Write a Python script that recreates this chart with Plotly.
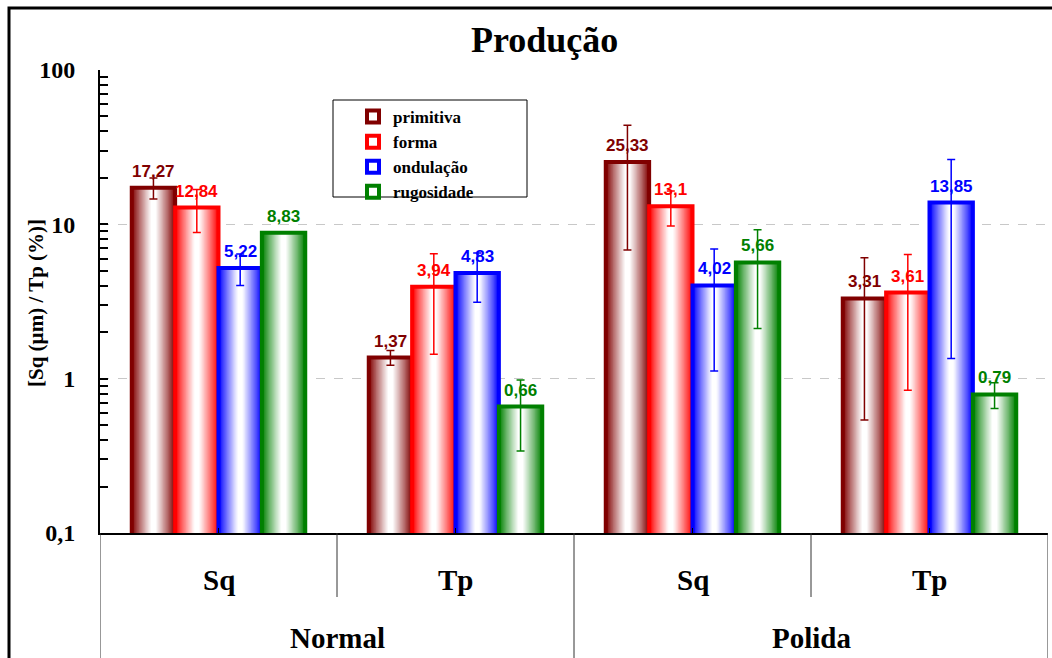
import math
import plotly.graph_objects as go

# ---------------- data ----------------
groups_outer = ["Normal", "Normal", "Polida", "Polida"]
groups_inner = ["Sq", "Tp", "Sq", "Tp"]
outer_labels = ["Normal", "Polida"]
series_names = ["primitiva", "forma", "ondulação", "rugosidade"]
series_colors = ["#800000", "#FF0000", "#0000FF", "#008000"]

primitiva = [17.27, 1.37, 25.33, 3.31]
forma = [12.84, 3.94, 13.1, 3.61]
ondulacao = [5.22, 4.83, 4.02, 13.85]
rugosidade = [8.83, 0.66, 5.66, 0.79]

primitiva_err = [2.7, 0.15, 18.5, 2.77]
forma_err = [4.0, 2.5, 3.35, 2.77]
ondulacao_err = [1.2, 1.7, 2.9, 12.5]
rugosidade_err = [0.05, 0.32, 3.55, 0.15]

y_tickvals = [0.1, 1, 10, 100]
y_ticktext = ["0,1", "1", "10", "100"]

values = [primitiva, forma, ondulacao, rugosidade]
errors = [primitiva_err, forma_err, ondulacao_err, rugosidade_err]

# ---------------- helpers ----------------
def hex_to_rgb(h):
    h = h.lstrip("#")
    return tuple(int(h[i:i + 2], 16) for i in (0, 2, 4))

def mix(c, t):
    r, g, b = hex_to_rgb(c)
    return "rgb(%d,%d,%d)" % (round(r + (255 - r) * t), round(g + (255 - g) * t), round(b + (255 - b) * t))

def fmt(v):
    return ("%g" % v).replace(".", ",")

x = list(range(len(groups_inner)))
W = 0.183
N = 18
SERIF = "Liberation Serif"
SANS = "Liberation Sans"

# plot area in px: x 100..1048, y 70..533
L, R, T, B = 100, 1048, 70, 533
PW, PH = R - L, B - T

def px_x(p):
    return (p - L) / PW

def px_y(p):
    return (B - p) / PH

fig = go.Figure()
annotations = []

for i, (name, col, vals, errs) in enumerate(zip(series_names, series_colors, values, errors)):
    center = (i - 1.5) * W
    # gradient layers (edge colour -> white centre)
    for k in range(N):
        t = k / N
        frac = 1 - t
        shade = min(1.0, 1.15 * t) ** 0.9
        width = W * frac
        fig.add_trace(go.Bar(
            x=x, y=vals, width=[width] * len(x), offset=[center - width / 2] * len(x),
            marker=dict(color=mix(col, shade), line=dict(width=0)),
            showlegend=False, hoverinfo="skip",
        ))
    # outline + error bars
    fig.add_trace(go.Bar(
        x=x, y=vals, width=[W] * len(x), offset=[center - W / 2] * len(x),
        name=name,
        marker=dict(color="rgba(255,255,255,0)", line=dict(color=col, width=4)),
        error_y=dict(type="data", array=errs, visible=True, color=col, thickness=1.5, width=4),
        cliponaxis=False,
        showlegend=True,
    ))
    # value labels (log axis -> annotation y in log10 units)
    for xi, v in zip(x, vals):
        annotations.append(dict(x=xi + center, y=math.log10(v), xref="x", yref="y",
                                text=fmt(v), showarrow=False, xanchor="center", yanchor="bottom",
                                yshift=5, font=dict(family=SANS, size=17, color=col, weight="bold")))

shapes = []
# category dividers
for xv in [-0.5, 1.5, 3.5]:
    shapes.append(dict(type="line", xref="x", yref="paper", x0=xv, x1=xv, y0=0, y1=px_y(662),
                       line=dict(color="#333333", width=1)))
for xv in [0.5, 2.5]:
    shapes.append(dict(type="line", xref="x", yref="paper", x0=xv, x1=xv, y0=0, y1=px_y(597),
                       line=dict(color="#333333", width=1)))
# legend box
shapes.append(dict(type="rect", xref="paper", yref="paper", x0=px_x(333), x1=px_x(527),
                   y0=px_y(197), y1=px_y(100), line=dict(color="black", width=1), fillcolor="white",
                   layer="below"))
# outer frame
shapes.append(dict(type="rect", xref="paper", yref="paper", x0=px_x(9), x1=px_x(1056),
                   y0=px_y(664), y1=px_y(8), line=dict(color="black", width=3)))

for xi, lab in zip(x, groups_inner):
    annotations.append(dict(x=xi, y=px_y(580), xref="x", yref="paper", text=lab, showarrow=False,
                            font=dict(family=SERIF, size=29, color="black", weight="bold"),
                            xanchor="center", yanchor="middle"))
for j, lab in enumerate(outer_labels):
    annotations.append(dict(x=2 * j + 0.5, y=px_y(638), xref="x", yref="paper", text=lab, showarrow=False,
                            font=dict(family=SERIF, size=29, color="black", weight="bold"),
                            xanchor="center", yanchor="middle"))
annotations.append(dict(x=px_x(544), y=px_y(40), xref="paper", yref="paper", text="Produção",
                        showarrow=False, font=dict(family=SERIF, size=36, color="black", weight="bold"),
                        xanchor="center", yanchor="middle"))
annotations.append(dict(x=px_x(36), y=px_y(303), xref="paper", yref="paper", text="[Sq (µm) / Tp (%)]",
                        showarrow=False, textangle=-90,
                        font=dict(family=SERIF, size=21, color="black", weight="bold"),
                        xanchor="center", yanchor="middle"))

fig.update_layout(
    width=1052, height=658,
    margin=dict(l=L, r=1052 - R, t=T, b=658 - B),
    paper_bgcolor="white", plot_bgcolor="white",
    barmode="overlay",
    shapes=shapes,
    annotations=annotations,
    legend=dict(x=px_x(353), y=px_y(99), xanchor="left", yanchor="top",
                bgcolor="rgba(0,0,0,0)", borderwidth=0,
                font=dict(family=SERIF, size=17, color="black", weight="bold"),
                itemwidth=30, tracegroupgap=0),
    xaxis=dict(range=[-0.5, 3.5], showline=True, linecolor="black", linewidth=2,
               ticks="inside", ticklen=5, tickcolor="black", tickvals=x, showticklabels=False,
               showgrid=False, zeroline=False, fixedrange=True),
    yaxis=dict(type="log", range=[-1, 2], showline=True, linecolor="black", linewidth=2,
               ticks="inside", ticklen=8, tickwidth=1.5, tickcolor="black",
               tickvals=y_tickvals, ticktext=y_ticktext, ticklabelstandoff=18,
               tickfont=dict(family=SERIF, size=24, color="black", weight="bold"),
               showgrid=True, gridcolor="#c8c8c8", griddash="dash", gridwidth=1,
               minor=dict(ticks="inside", ticklen=8, tickwidth=1.5, tickcolor="black",
                          dtick="D1", showgrid=False),
               zeroline=False),
)

fig.write_html("out.html")
